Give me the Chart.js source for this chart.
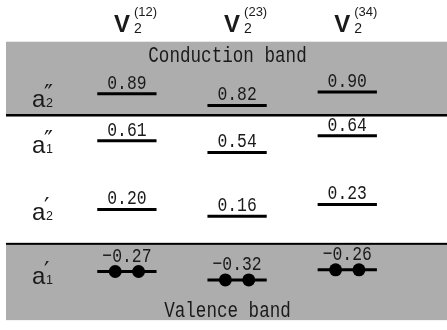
<!DOCTYPE html>
<html>
<head>
<meta charset="utf-8">
<script src="https://cdn.jsdelivr.net/npm/chart.js@4/dist/chart.umd.min.js"></script>
<style>
  html, body { margin: 0; padding: 0; background: #fff; }
  canvas { display: block; }
</style>
</head>
<body>
<canvas id="levels" width="447" height="330"></canvas>
<script>
// Defect-level energies (eV) of the three divacancy configurations
const configs = ['(12)', '(23)', '(34)'];
const configX = [1, 2, 3];
const a2ppLevels = [0.89, 0.82, 0.90];
const a1ppLevels = [0.61, 0.54, 0.64];
const a2pLevels = [0.20, 0.16, 0.23];
const a1pLevels = [-0.27, -0.32, -0.26];

// Irreducible-representation labels, one per row of levels
const rowSubs = ['2', '1', '2', '1'];
const rowPrimes = ['\u2033', '\u2033', '\u2032', '\u2032'];
const bandNames = ['Conduction band', 'Valence band'];

const rows = [a2ppLevels, a1ppLevels, a2pLevels, a1pLevels];
const occupiedRow = 3;

// Energy axis with a break: everything below zero is pulled up by GAP
const GAP = 0.1;
const toAxis = v => (v < 0 ? Math.min(0, v + GAP) : v);

class BrokenLinearScale extends Chart.LinearScale {
  getPixelForValue(value) {
    return super.getPixelForValue(value == null ? value : toAxis(value));
  }
}
BrokenLinearScale.id = 'brokenLinear';
BrokenLinearScale.defaults = Chart.LinearScale.defaults;
Chart.register(BrokenLinearScale);

// band shading limits (eV)
const CB_TOP = 1.20, CB_BOTTOM = 0.763;
const VB_TOP = -0.105, VB_BOTTOM = -0.56;

const HALF = 0.269;      // half length of a level bar, in column units
const PAIR = 0.106;      // electron offset from the bar centre

const datasets = [];
rows.forEach(vals => vals.forEach((v, c) => {
  datasets.push({
    data: [{ x: configX[c] - HALF, y: v }, { x: configX[c] + HALF, y: v }],
    borderColor: '#000',
    borderWidth: 3,
    pointRadius: 0,
    pointHoverRadius: 0,
    fill: false,
    tension: 0
  });
}));
datasets.push({
  data: rows[occupiedRow].flatMap((v, c) => [
    { x: configX[c] - PAIR, y: v },
    { x: configX[c] + PAIR, y: v }
  ]),
  showLine: false,
  pointRadius: 6.5,
  pointHoverRadius: 6.5,
  pointBackgroundColor: '#000',
  pointBorderColor: '#000',
  pointBorderWidth: 0
});

const fmt = v => (v < 0 ? '\u2212' : '') + Math.abs(v).toFixed(2);

function monoText(ctx, text, x, y, size, sx) {
  ctx.save();
  ctx.translate(x, y);
  ctx.scale(sx, 1);
  ctx.font = size + 'px "Liberation Mono", "DejaVu Sans Mono", monospace';
  ctx.textAlign = 'center';
  ctx.textBaseline = 'alphabetic';
  ctx.fillText(text, 0, 0);
  ctx.restore();
}

const levelDiagram = {
  id: 'levelDiagram',
  beforeDatasetsDraw(chart) {
    const { ctx } = chart;
    const y = chart.scales.y;
    const L = 6, R = chart.width;
    const cTop = y.getPixelForValue(CB_TOP), cBot = y.getPixelForValue(CB_BOTTOM);
    const vTop = y.getPixelForValue(VB_TOP), vBot = y.getPixelForValue(VB_BOTTOM);
    ctx.save();
    ctx.fillStyle = '#adadad';
    ctx.fillRect(L, cTop, R - L, cBot - cTop);
    ctx.fillRect(L, vTop, R - L, vBot - vTop);
    ctx.fillStyle = '#000';
    ctx.fillRect(L, cBot - 1, R - L, 2.5);
    ctx.fillRect(L, vTop - 1, R - L, 2);
    ctx.restore();
  },
  afterDatasetsDraw(chart) {
    const { ctx } = chart;
    const x = chart.scales.x, y = chart.scales.y;
    ctx.save();
    ctx.fillStyle = '#1a1a1a';

    // column headers V2^(ij)
    configs.forEach((lab, c) => {
      const x0 = x.getPixelForValue(configX[c]) - 13;
      ctx.textAlign = 'left';
      ctx.textBaseline = 'alphabetic';
      ctx.font = 'bold 24px "Liberation Sans", Arial, sans-serif';
      ctx.fillText('V', x0, 32);
      ctx.font = '14px "Liberation Sans", Arial, sans-serif';
      ctx.fillText('2', x0 + 20, 33);
      ctx.font = '13px "Liberation Sans", Arial, sans-serif';
      ctx.fillText(lab, x0 + 20, 16);
    });

    // band names
    const midX = (6 + chart.width) / 2 + 1;
    monoText(ctx, bandNames[0], midX, 61.5, 22, 0.8);
    monoText(ctx, bandNames[1], midX, 316.5, 22, 0.8);

    // level values
    rows.forEach((vals, r) => vals.forEach((v, c) => {
      const px = x.getPixelForValue(configX[c]);
      const py = y.getPixelForValue(v) - (r === occupiedRow ? 10 : 5);
      monoText(ctx, fmt(v), px, py, 21, 0.78);
    }));

    // row symbols a2'', a1'', a2', a1'
    rows.forEach((vals, r) => {
      const mean = vals.reduce((s, v) => s + y.getPixelForValue(v), 0) / vals.length;
      const base = mean + 10;
      ctx.textAlign = 'left';
      ctx.textBaseline = 'alphabetic';
      ctx.font = '24px "Liberation Sans", Arial, sans-serif';
      ctx.fillText('a', 32, base);
      ctx.font = '12.5px "Liberation Sans", Arial, sans-serif';
      ctx.fillText(rowSubs[r], 46, base);
      ctx.font = '24px "DejaVu Sans", sans-serif';
      ctx.fillText(rowPrimes[r], 44, base - 5);
    });
    ctx.restore();
  }
};

new Chart(document.getElementById('levels'), {
  type: 'line',
  data: { datasets },
  options: {
    responsive: false,
    animation: false,
    events: [],
    layout: { padding: 0 },
    plugins: { legend: { display: false }, tooltip: { enabled: false }, title: { display: false } },
    scales: {
      x: { type: 'linear', display: false, min: -0.0925, max: 3.846 },
      y: { type: 'brokenLinear', display: false, min: -0.48, max: 1.41, bounds: 'data' }
    }
  },
  plugins: [levelDiagram]
});
</script>
</body>
</html>
